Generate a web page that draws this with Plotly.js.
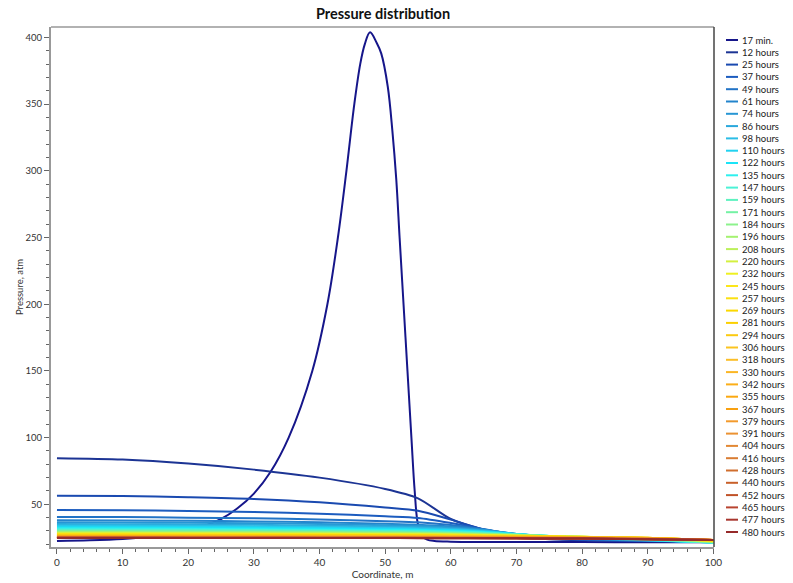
<!DOCTYPE html>
<html>
<head>
<meta charset="utf-8">
<script src="https://cdn.plot.ly/plotly-3.0.1.min.js"></script>
<style>
  html, body { margin: 0; padding: 0; background: #fff; }
  #chart { width: 793px; height: 583px; }
</style>
</head>
<body>
<div id="chart"></div>
<script>
// Pressure profiles along the coordinate (m), one per time step (atm)
const coordinate = [0, 10, 20, 30, 40, 50, 55, 60, 65, 70, 75, 80, 90, 100];

// first profile (17 min.) – sharp pressure peak around 48 m
const coord17min = [0, 5, 10, 15, 20, 22.5, 25, 27.5, 30, 32.5, 35.3, 38.9, 41.2, 42.8, 44.1, 45.3, 46.2, 46.9,
                    47.7, 48.7, 49.4, 50.4, 51.1, 51.7, 52.2, 52.8, 53.4, 54, 54.5, 55, 55.7, 56.4, 57.5, 60, 70, 80, 90, 100];
const pressure17min = [22.5, 23, 24, 26, 30, 34, 39, 47, 58, 74, 100, 150, 200, 250, 300, 350, 380, 395,
                       403.8, 396, 388, 363, 330, 293, 250, 200, 150, 100, 60, 35, 26, 23.5, 22.5, 22, 21.8, 21.7, 21.6, 21.5];

const h12  = [84.5, 83.5, 80.5, 76, 70, 61.5, 54.5, 39, 31, 25.8, 23.8, 23, 22.3, 22];
const h25  = [56.5, 56.2, 55.3, 54, 51.5, 47.6, 45.2, 38.5, 31.2, 26.5, 24.3, 23.3, 22.5, 22];
const h37  = [45.7, 45.5, 45, 44.3, 43, 41, 39.8, 36, 31.3, 27, 24.8, 23.7, 22.6, 21.9];
const h49  = [40.5, 40.4, 40, 39.5, 38.7, 37.3, 36.5, 34.5, 31.3, 27.4, 25.2, 24, 22.7, 21.8];
const h61  = [38, 37.9, 37.6, 37.2, 36.5, 35.4, 34.7, 33.3, 31, 27.6, 25.5, 24.3, 22.8, 21.7];
const h74  = [36.5, 36.4, 36.1, 35.8, 35.2, 34.3, 33.7, 32.6, 30.7, 27.8, 25.7, 24.5, 22.9, 21.6];
const h86  = [35.2, 35.1, 34.9, 34.6, 34.1, 33.3, 32.8, 31.9, 30.3, 27.8, 25.9, 24.7, 23, 21.5];
const h98  = [34.2, 34.1, 33.9, 33.6, 33.2, 32.5, 32.1, 31.3, 29.9, 27.8, 26, 24.9, 23.1, 21.4];
const h110 = [33.3, 33.2, 33, 32.8, 32.4, 31.8, 31.4, 30.8, 29.6, 27.7, 26.1, 25, 23.2, 21.3];
const h122 = [32.5, 32.4, 32.2, 32, 31.7, 31.2, 30.8, 30.3, 29.2, 27.6, 26.2, 25.1, 23.3, 21.3];
const h135 = [31.8, 31.7, 31.5, 31.3, 31, 30.6, 30.3, 29.8, 28.9, 27.5, 26.2, 25.2, 23.4, 21.3];
const h147 = [31.1, 31, 30.9, 30.7, 30.4, 30, 29.8, 29.3, 28.6, 27.4, 26.2, 25.3, 23.6, 21.4];
const h159 = [30.5, 30.4, 30.3, 30.1, 29.9, 29.5, 29.3, 28.9, 28.2, 27.2, 26.2, 25.4, 23.8, 21.5];
const h171 = [30, 29.9, 29.8, 29.6, 29.4, 29.1, 28.9, 28.5, 27.9, 27.1, 26.2, 25.5, 24, 21.6];
const h184 = [29.5, 29.4, 29.3, 29.2, 29, 28.7, 28.5, 28.2, 27.7, 26.9, 26.2, 25.5, 24.2, 21.8];
const h196 = [29.1, 29, 28.9, 28.8, 28.6, 28.3, 28.2, 27.9, 27.4, 26.8, 26.1, 25.6, 24.4, 22];
const h208 = [28.7, 28.6, 28.5, 28.4, 28.3, 28, 27.9, 27.6, 27.2, 26.7, 26.1, 25.6, 24.5, 22.2];
const h220 = [28.3, 28.3, 28.2, 28.1, 27.9, 27.7, 27.6, 27.4, 27, 26.5, 26, 25.6, 24.6, 22.4];
const h232 = [28, 27.9, 27.9, 27.8, 27.6, 27.4, 27.3, 27.1, 26.8, 26.4, 26, 25.6, 24.7, 22.6];
const h245 = [27.7, 27.6, 27.6, 27.5, 27.3, 27.1, 27, 26.9, 26.6, 26.3, 25.9, 25.6, 24.8, 22.7];
const h257 = [27.4, 27.4, 27.3, 27.2, 27.1, 26.9, 26.8, 26.7, 26.4, 26.1, 25.8, 25.5, 24.8, 22.8];
const h269 = [27.1, 27.1, 27, 27, 26.8, 26.7, 26.6, 26.5, 26.3, 26, 25.7, 25.5, 24.9, 22.9];
const h281 = [26.9, 26.9, 26.8, 26.7, 26.6, 26.5, 26.4, 26.3, 26.1, 25.9, 25.6, 25.4, 24.9, 23];
const h294 = [26.7, 26.7, 26.6, 26.5, 26.4, 26.3, 26.2, 26.1, 26, 25.8, 25.6, 25.4, 24.9, 23.1];
const h306 = [26.5, 26.5, 26.4, 26.3, 26.2, 26.1, 26, 25.9, 25.8, 25.6, 25.5, 25.3, 24.8, 23.2];
const h318 = [26.3, 26.3, 26.2, 26.2, 26.1, 26, 25.9, 25.8, 25.7, 25.5, 25.4, 25.2, 24.8, 23.2];
const h330 = [26.1, 26.1, 26, 26, 25.9, 25.8, 25.7, 25.7, 25.5, 25.4, 25.3, 25.1, 24.7, 23.3];
const h342 = [25.9, 25.9, 25.9, 25.8, 25.7, 25.6, 25.6, 25.5, 25.4, 25.3, 25.2, 25, 24.6, 23.3];
const h355 = [25.8, 25.8, 25.7, 25.7, 25.6, 25.5, 25.4, 25.4, 25.3, 25.2, 25.1, 24.9, 24.5, 23.3];
const h367 = [25.6, 25.6, 25.6, 25.5, 25.5, 25.4, 25.3, 25.3, 25.2, 25.1, 25, 24.9, 24.4, 23.3];
const h379 = [25.5, 25.5, 25.4, 25.4, 25.3, 25.3, 25.2, 25.2, 25.1, 25, 24.9, 24.8, 24.3, 23.3];
const h391 = [25.4, 25.4, 25.3, 25.3, 25.2, 25.2, 25.1, 25.1, 25, 24.9, 24.8, 24.7, 24.2, 23.3];
const h404 = [25.3, 25.3, 25.2, 25.2, 25.1, 25.1, 25, 25, 24.9, 24.8, 24.7, 24.6, 24.1, 23.3];
const h416 = [25.2, 25.2, 25.1, 25.1, 25, 25, 24.9, 24.9, 24.8, 24.7, 24.6, 24.5, 24, 23.3];
const h428 = [25.1, 25.1, 25, 25, 25, 24.9, 24.9, 24.8, 24.8, 24.7, 24.6, 24.5, 24, 23.3];
const h440 = [25, 25, 25, 24.9, 24.9, 24.9, 24.8, 24.8, 24.7, 24.6, 24.5, 24.4, 23.9, 23.3];
const h452 = [24.9, 24.9, 24.9, 24.9, 24.8, 24.8, 24.7, 24.7, 24.7, 24.6, 24.5, 24.4, 23.9, 23.2];
const h465 = [24.9, 24.9, 24.8, 24.8, 24.8, 24.7, 24.7, 24.7, 24.6, 24.5, 24.4, 24.3, 23.8, 23.2];
const h477 = [24.8, 24.8, 24.8, 24.8, 24.7, 24.7, 24.7, 24.6, 24.6, 24.5, 24.4, 24.3, 23.8, 23.2];
const h480 = [24.8, 24.8, 24.8, 24.7, 24.7, 24.7, 24.6, 24.6, 24.6, 24.5, 24.4, 24.3, 23.8, 23.2];

const timeLabels = ['17 min.', '12 hours', '25 hours', '37 hours', '49 hours', '61 hours', '74 hours',
  '86 hours', '98 hours', '110 hours', '122 hours', '135 hours', '147 hours', '159 hours', '171 hours',
  '184 hours', '196 hours', '208 hours', '220 hours', '232 hours', '245 hours', '257 hours', '269 hours',
  '281 hours', '294 hours', '306 hours', '318 hours', '330 hours', '342 hours', '355 hours', '367 hours',
  '379 hours', '391 hours', '404 hours', '416 hours', '428 hours', '440 hours', '452 hours', '465 hours',
  '477 hours', '480 hours'];

const laterProfiles = [h12, h25, h37, h49, h61, h74, h86, h98, h110, h122, h135, h147, h159, h171, h184,
  h196, h208, h220, h232, h245, h257, h269, h281, h294, h306, h318, h330, h342, h355, h367, h379, h391,
  h404, h416, h428, h440, h452, h465, h477, h480];

// jet-like palette, early (navy) to late (dark red)
const palette = ['#16168a', '#1c3494', '#1a4ab0', '#1c5cbf', '#2273c6', '#2384cc', '#2796d4', '#2aa8dc',
  '#2bbde6', '#22d2f0', '#1be4f7', '#2ef0ee', '#4cf2d6', '#5ef2c0', '#74f2a4', '#8cf28c', '#a4f270',
  '#bcf05a', '#d4f040', '#eef020', '#fce61a', '#fbe010', '#fbd800', '#fbd000', '#fbca10', '#fbc420',
  '#fbbe28', '#fbb624', '#fbae18', '#fba810', '#f8a010', '#f39a2c', '#eb9232', '#e28834', '#d97c32',
  '#d06e2e', '#c8602a', '#c05228', '#b84430', '#a8362e', '#962a2a'];

const FONT = 'Lato, "Noto Sans", sans-serif';

const traces = [{
  x: coord17min, y: pressure17min, type: 'scatter', mode: 'lines', name: timeLabels[0],
  line: { color: palette[0], width: 2, shape: 'spline', smoothing: 1 },
  showlegend: false, hoverinfo: 'skip'
}];
laterProfiles.forEach((p, i) => {
  traces.push({
    x: coordinate, y: p, type: 'scatter', mode: 'lines', name: timeLabels[i + 1],
    line: { color: palette[i + 1], width: 2, shape: 'spline', smoothing: 0.8 },
    showlegend: false, hoverinfo: 'skip'
  });
});

// plot area in pixels
const W = 793, H = 583;
const M = { l: 51, r: 79, t: 27, b: 36 };
const plotW = W - M.l - M.r, plotH = H - M.t - M.b;
const px2paperX = px => (px - M.l) / plotW;
const px2paperY = py => (H - M.b - py) / plotH;

// hand-drawn legend (compact spacing)
const shapes = [];
const annotations = [];
timeLabels.forEach((label, i) => {
  const cy = 40 + i * 12.3;
  shapes.push({
    type: 'line', xref: 'paper', yref: 'paper',
    x0: px2paperX(726), x1: px2paperX(738), y0: px2paperY(cy), y1: px2paperY(cy),
    line: { color: palette[i], width: 2 }
  });
  annotations.push({
    xref: 'paper', yref: 'paper', x: px2paperX(741), y: px2paperY(cy),
    xanchor: 'left', yanchor: 'middle', showarrow: false, text: label,
    font: { family: FONT, size: 9.5, color: '#222' }, borderpad: 0
  });
});

// y axis title
annotations.push({
  xref: 'paper', yref: 'paper', x: px2paperX(19), y: px2paperY(287),
  xanchor: 'center', yanchor: 'middle', showarrow: false, textangle: -90,
  text: 'Pressure, atm', font: { family: FONT, size: 9.5, color: '#333' }
});

// frame: top and right borders
shapes.push({ type: 'line', xref: 'paper', yref: 'paper', x0: 0, x1: 1, y0: 1, y1: 1,
  line: { color: '#999', width: 1.5 } });
shapes.push({ type: 'line', xref: 'paper', yref: 'paper', x0: 1, x1: 1, y0: 0, y1: 1,
  line: { color: '#444', width: 1.5 } });

const layout = {
  width: W, height: H,
  margin: M,
  paper_bgcolor: '#fff', plot_bgcolor: '#fff',
  font: { family: FONT, size: 10, color: '#333' },
  title: {
    text: '<b>Pressure distribution</b>',
    font: { family: FONT, size: 14.5, color: '#111' },
    x: px2paperX(383), xref: 'paper', xanchor: 'center',
    y: 1 - 14 / H, yref: 'container', yanchor: 'middle'
  },
  xaxis: {
    range: [-0.91, 100.1], showgrid: false, zeroline: false,
    showline: true, linecolor: '#999', linewidth: 2,
    ticks: 'outside', ticklen: 5, tickwidth: 1, tickcolor: '#666',
    dtick: 10, tick0: 0,
    minor: { dtick: 2, tick0: 0, ticks: 'outside', ticklen: 3, tickwidth: 1, tickcolor: '#666', showgrid: false },
    tickfont: { family: FONT, size: 10, color: '#333' },
    title: { text: 'Coordinate, m', font: { family: FONT, size: 10, color: '#333' }, standoff: 3 }
  },
  yaxis: {
    range: [18, 407.8], showgrid: false, zeroline: false,
    showline: true, linecolor: '#999', linewidth: 2,
    ticks: 'outside', ticklen: 5, tickwidth: 1, tickcolor: '#666',
    dtick: 50, tick0: 0,
    minor: { dtick: 10, tick0: 0, ticks: 'outside', ticklen: 3, tickwidth: 1, tickcolor: '#666', showgrid: false },
    tickfont: { family: FONT, size: 9.5, color: '#333' }
  },
  shapes: shapes,
  annotations: annotations,
  showlegend: false
};

Plotly.newPlot('chart', traces, layout, { staticPlot: true, displayModeBar: false });
</script>
</body>
</html>
